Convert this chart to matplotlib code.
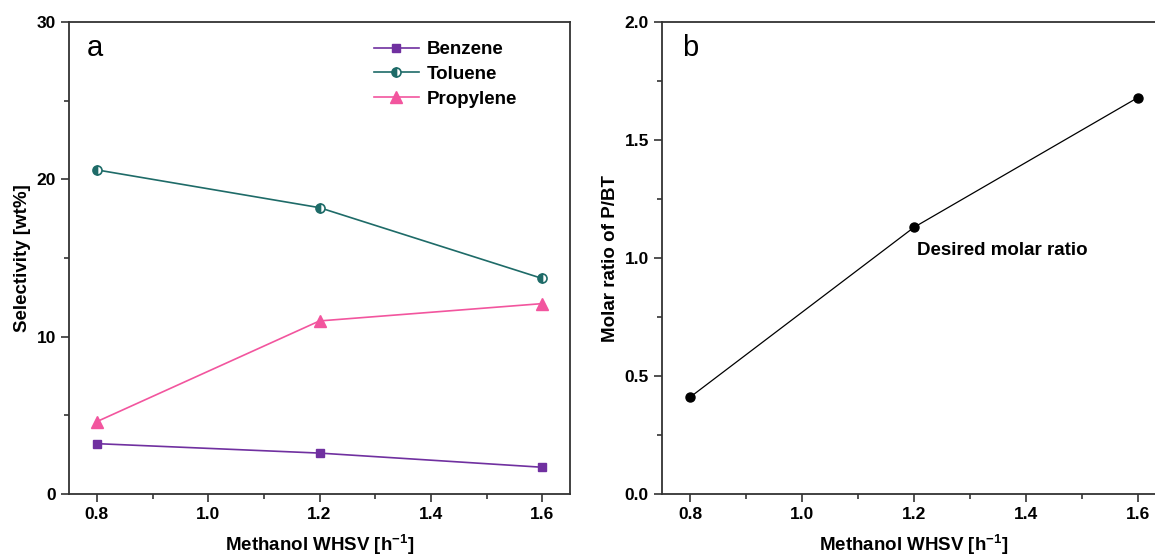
import numpy as np
import matplotlib.pyplot as plt

plt.rcParams['font.family'] = ['Liberation Sans', 'DejaVu Sans']
plt.rcParams['mathtext.fontset'] = 'custom'
plt.rcParams['mathtext.rm'] = 'Liberation Sans:bold'
plt.rcParams['mathtext.bf'] = 'Liberation Sans:bold'

whsv = [0.8, 1.2, 1.6]
benzene = [3.2, 2.6, 1.7]
toluene = [20.6, 18.2, 13.7]
propylene = [4.6, 11.0, 12.1]
ratio = [0.41, 1.13, 1.68]

c_benz = '#7030A0'
c_tol = '#1E6B68'
c_prop = '#F2559E'
axc = '#333333'

fig = plt.figure(figsize=(11.55, 5.58), dpi=100)
W, H = 1155, 558
ax1 = fig.add_axes([69 / W, 64 / H, 501 / W, 472 / H])
ax2 = fig.add_axes([662 / W, 64 / H, 504 / W, 472 / H])


def style(ax):
    for s in ax.spines.values():
        s.set_color(axc)
        s.set_linewidth(1.3)
    ax.tick_params(which='both', direction='out', colors=axc, labelcolor='black',
                   width=1.2)
    ax.tick_params(which='major', length=6, labelsize=12.5)
    ax.tick_params(which='minor', length=3.5)
    ax.set_xlim(0.75, 1.65)
    ax.set_xticks([0.8, 1.0, 1.2, 1.4, 1.6])
    ax.set_xticks(np.arange(0.8, 1.65, 0.1), minor=True)
    for lab in ax.get_xticklabels() + ax.get_yticklabels():
        lab.set_fontweight('bold')
    ax.set_xlabel('Methanol WHSV [h$^{-1}$]', fontsize=13.5, fontweight='bold',
                  labelpad=7)


ax1.plot(whsv, benzene, color=c_benz, lw=1.2, marker='s', ms=6,
         mfc=c_benz, mec=c_benz, label='Benzene')
ax1.plot(whsv, toluene, color=c_tol, lw=1.2, marker='o', ms=6.5,
         fillstyle='left', mfc=c_tol, mfcalt='white', mec=c_tol, mew=1.2,
         label='Toluene')
ax1.plot(whsv, propylene, color=c_prop, lw=1.2, marker='^', ms=8,
         mfc=c_prop, mec=c_prop, label='Propylene')
ax1.set_ylim(0, 30)
ax1.set_yticks([0, 10, 20, 30])
ax1.set_yticks(np.arange(0, 31, 5), minor=True)
style(ax1)
ax1.set_ylabel('Selectivity [wt%]', fontsize=13.5, fontweight='bold', labelpad=4)
ax1.text(0.035, 0.975, 'a', transform=ax1.transAxes, fontsize=21,
         va='top', ha='left')
ax1.legend(loc='upper left', bbox_to_anchor=(0.575, 0.995), frameon=False,
           prop={'weight': 'bold', 'size': 13.5}, handlelength=2.4,
           labelspacing=0.4, handletextpad=0.4)

ax2.plot(whsv, ratio, color='black', lw=0.9, marker='o', ms=6.5,
         mfc='black', mec='black')
ax2.set_ylim(0, 2.0)
ax2.set_yticks([0.0, 0.5, 1.0, 1.5, 2.0])
ax2.set_yticks(np.arange(0, 2.01, 0.25), minor=True)
ax2.yaxis.set_major_formatter(plt.FormatStrFormatter('%.1f'))
style(ax2)
ax2.set_ylabel('Molar ratio of P/BT', fontsize=13.5, fontweight='bold', labelpad=4)
ax2.text(0.04, 0.975, 'b', transform=ax2.transAxes, fontsize=21,
         va='top', ha='left')
ax2.text(1.205, 1.03, 'Desired molar ratio', fontsize=13.5, fontweight='bold',
         va='center', ha='left')

fig.savefig('out.png', dpi=100)
